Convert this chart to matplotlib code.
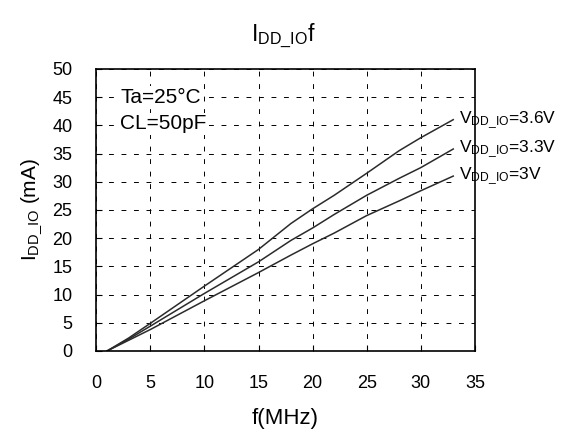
import matplotlib
matplotlib.use("Agg")
from matplotlib import pyplot as plt

plt.rcParams["font.family"] = ["Liberation Sans", "DejaVu Sans"]
plt.rcParams["mathtext.fontset"] = "custom"
plt.rcParams["mathtext.rm"] = "Liberation Sans"
plt.rcParams["lines.scale_dashes"] = False

freq = [1, 3, 5, 10, 15, 18, 20, 22, 25, 28, 30, 33]
i_36 = [0, 2.3, 4.9, 11.5, 18.0, 22.6, 25.2, 27.6, 31.5, 35.5, 37.8, 41.0]
i_33 = [0, 2.1, 4.4, 10.2, 15.8, 19.6, 21.8, 24.2, 27.6, 30.6, 32.5, 35.8]
i_30 = [0, 1.9, 3.8, 8.9, 13.9, 17.0, 19.0, 20.9, 24.0, 26.6, 28.4, 31.0]
labels = ["3.6V", "3.3V", "3V"]

fig = plt.figure(figsize=(5.66, 4.36), dpi=100)
ax = fig.add_axes([0.170, 0.195, 0.669, 0.647])
ax.set_axisbelow(True)

for vals, lab in zip([i_36, i_33, i_30], labels):
    ax.plot(freq, vals, color="#2b2b2b", lw=1.1, zorder=2)
    ax.text(freq[-1] + 0.5, vals[-1], r"$\mathregular{V_{DD\_IO}}$=" + lab,
            fontsize=12.5, va="center", ha="left", clip_on=False, zorder=2.2,
            bbox=dict(facecolor="white", edgecolor="none", pad=0.5))

ax.set_xlim(0, 35)
ax.set_ylim(0, 50)
ax.set_xticks(range(0, 36, 5))
ax.set_yticks(range(0, 51, 5))
ax.tick_params(direction="in", length=4, labelsize=13, color="black", pad=17)
ax.grid(True, color="black", lw=0.7, linestyle=(0, (3.5, 5.5)))
for s in ax.spines.values():
    s.set_linewidth(1.2)

box = dict(facecolor="white", edgecolor="none", pad=1)
ax.text(2.2, 45, "Ta=25°C", fontsize=15, va="center", bbox=box, zorder=2.2)
ax.text(2.2, 40.3, "CL=50pF", fontsize=15, va="center", bbox=box, zorder=2.2)

ax.set_xlabel("f(MHz)", fontsize=16, labelpad=12)
ax.set_ylabel(r"$\mathregular{I_{DD\_IO}}$ (mA)", fontsize=15, labelpad=6)
fig.text(0.5, 0.905, r"$\mathregular{I_{DD\_IO}}$f", fontsize=16.5, ha="center")

fig.savefig("out.png", dpi=100)
